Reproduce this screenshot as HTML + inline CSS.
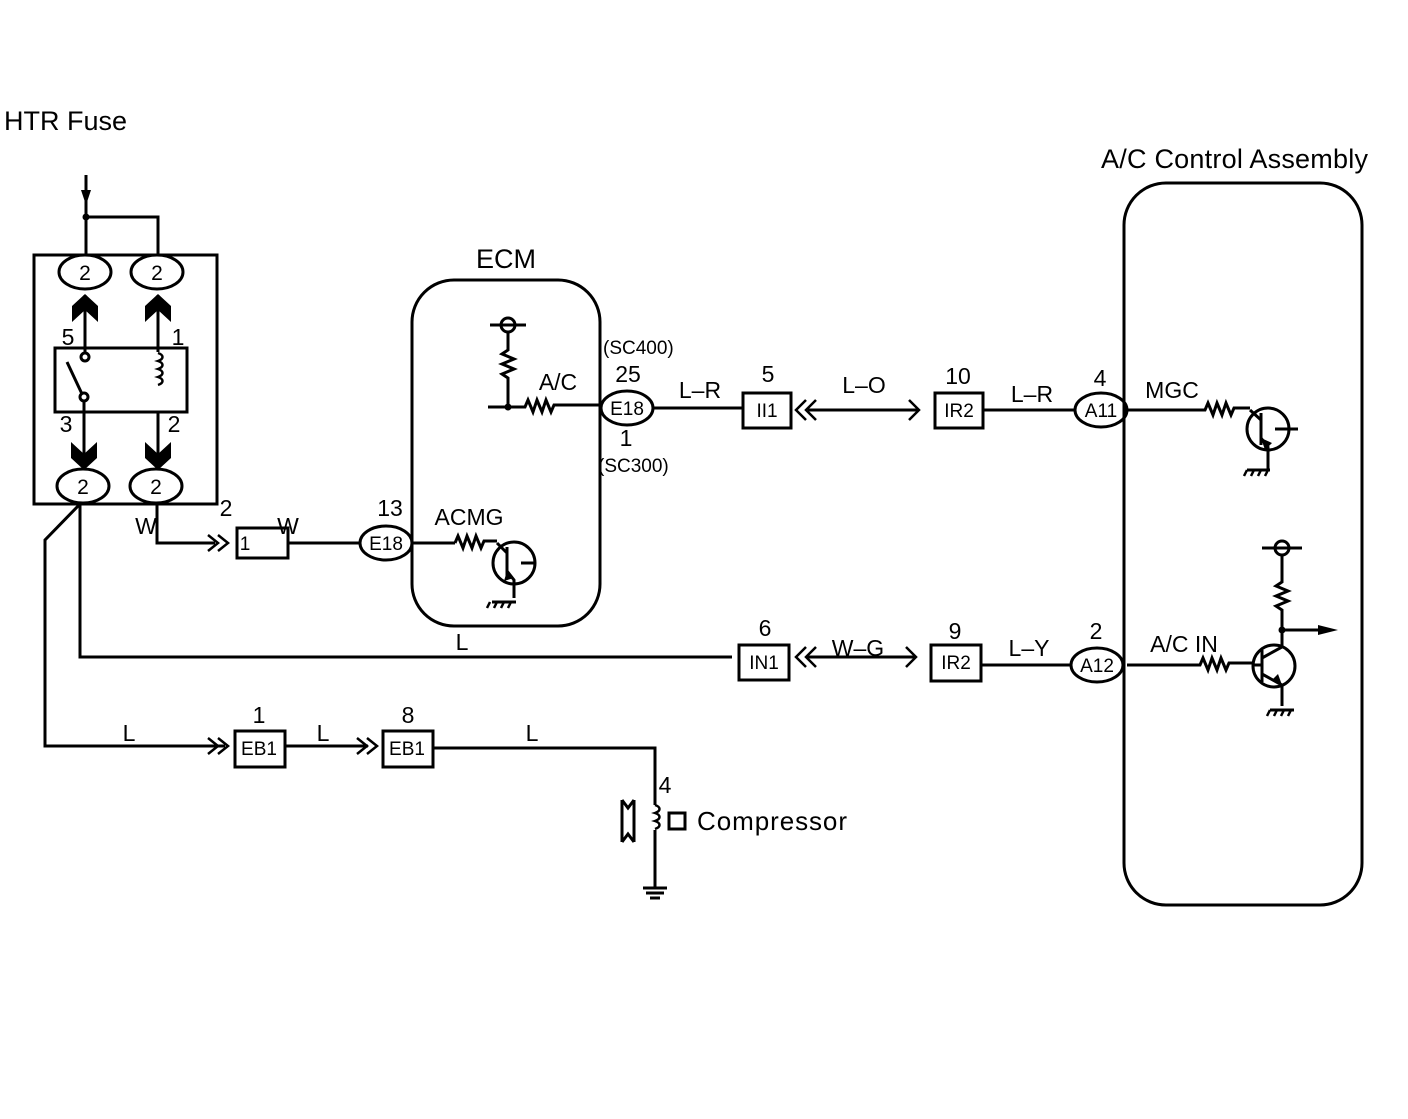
<!DOCTYPE html>
<html><head><style>
body{margin:0;background:#fff;}
svg text{font-family:"Liberation Sans",sans-serif;fill:#000;}
</style></head><body>
<svg width="1408" height="1114" viewBox="0 0 1408 1114" xmlns="http://www.w3.org/2000/svg">
<g fill="none" stroke="#000" stroke-width="3">
<rect x="34" y="255" width="183" height="249"/>
<path d="M86 175V255M86 217H158V255"/>
<ellipse cx="85" cy="272" rx="26" ry="17"/>
<ellipse cx="157" cy="272" rx="26" ry="17"/>
<ellipse cx="83" cy="486" rx="26" ry="17"/>
<ellipse cx="156" cy="486" rx="26" ry="17"/>
<rect x="55" y="348" width="132" height="64"/>
<path d="M85 295V352M158 295V352M84 401V460M158 412V460"/>
<circle cx="85" cy="357" r="4"/><circle cx="84" cy="397" r="4"/>
<path d="M67 362L82 394"/>
<path d="M158 353c6 2 6 6 0 8c6 2 6 6 0 8c6 2 6 6 0 8c6 2 6 6 0 8" stroke-width="2.5"/>
<path d="M80 504L45 540V746H225"/>
<path d="M80 504V657H732"/>
<path d="M157 504V543H215"/>
<rect x="237" y="528" width="51" height="30"/>
<path d="M288 543H361"/>
<ellipse cx="386" cy="543" rx="26" ry="17"/>
<path d="M412 543H455"/>
<rect x="412" y="280" width="188" height="346" rx="42"/>
<circle cx="508" cy="325" r="7"/>
<path d="M490 325H526M508 332V350l-6 4 12 5-12 5 12 5-12 5 6 4V407M488 407H525l3-7 5 12 4-12 5 12 4-12 5 12 3-7H601"/>
<path d="M455 543l3-7 5 12 4-12 5 12 4-12 5 12 3-7H497"/>
<circle cx="514" cy="563" r="21"/>
<path d="M507 547V579M497 543L507 553M507 571L514 580V598M521 563H535"/>
<path d="M492 602H516"/>
<ellipse cx="627" cy="408" rx="26" ry="17"/>
<path d="M653 408H743"/>
<rect x="743" y="393" width="48" height="35"/>
<path d="M808 410H918"/>
<rect x="935" y="393" width="48" height="35"/>
<path d="M983 410H1075"/>
<ellipse cx="1101" cy="410" rx="26" ry="17"/>
<path d="M1127 410H1205l3-7 5 12 4-12 5 12 4-12 5 12 3-7H1250"/>
<rect x="1124" y="183" width="238" height="722" rx="42"/>
<circle cx="1268" cy="429" r="21"/>
<path d="M1261 413V445M1250 410L1261 420M1261 438L1268 447V470M1275 429H1298"/>
<path d="M1247 470H1270"/>
<circle cx="1282" cy="548" r="7"/>
<path d="M1262 548H1302M1282 555V582l-6 4 12 5-12 5 12 5-12 5 6 4V640M1282 630H1325"/>
<path d="M1127 665H1200l3-7 5 12 4-12 5 12 4-12 5 12 3-7H1253"/>
<circle cx="1274" cy="666" r="21"/>
<path d="M1262 650V682M1253 665H1262M1262 658L1282 647V632M1262 674L1282 685V706"/>
<path d="M1270 710H1294"/>
<path d="M806 657H915"/>
<rect x="739" y="645" width="50" height="35"/>
<rect x="931" y="645" width="50" height="36"/>
<path d="M981 665H1071"/>
<ellipse cx="1097" cy="665" rx="26" ry="17"/>
<rect x="235" y="731" width="50" height="36"/>
<path d="M285 746H368"/>
<rect x="383" y="731" width="50" height="36"/>
<path d="M433 748H655V805M655 830V888"/>
<path d="M655 805c6 2 6 6 0 8c6 2 6 6 0 8c6 2 6 6 0 8" stroke-width="2.5"/>
<rect x="669" y="813" width="16" height="16"/>
<path d="M622 800V842M634 800V842M622 800L628 808L634 800M622 842L628 834L634 842"/>
<path d="M643 888H667M646 893H664M650 898H660"/>
</g>
<g fill="#000">
<path d="M81 190L86 205L91 190Z"/>
<circle cx="86" cy="217" r="3.5"/>
<circle cx="508" cy="407" r="3.5"/>
<circle cx="1282" cy="630" r="3.5"/>
<path d="M1318 625L1338 630L1318 635Z"/>
<path d="M72 322L72 306L85 294L98 306L98 322L85 310Z"/>
<path d="M145 322L145 306L158 294L171 306L171 322L158 310Z"/>
<path d="M71 442L84 454L97 442L97 458L84 470L71 458Z"/>
<path d="M145 442L158 454L171 442L171 458L158 470L145 458Z"/>
<path d="M507 571L504 581L514 578Z"/>
<path d="M1261 438L1265 450L1272 443Z"/>
<path d="M1282 685L1272 680L1278 674Z"/>
</g>
<g fill="none" stroke="#000" stroke-width="2.5">
<path d="M208 535L218 543L208 551M218 535L228 543L218 551"/>
<path d="M806 400L796 410L806 420M816 400L806 410L816 420"/>
<path d="M909 400L919 410L909 420"/>
<path d="M806 647L796 657L806 667M816 647L806 657L816 667"/>
<path d="M906 647L916 657L906 667"/>
<path d="M208 738L218 746L208 754M218 738L228 746L218 754"/>
<path d="M357 738L367 746L357 754M367 738L377 746L367 754"/>
<path d="M490 602l-3 6M497 602l-3 6M504 602l-3 6M511 602l-3 6"/>
<path d="M1247 470l-3 6M1254 470l-3 6M1261 470l-3 6M1268 470l-3 6"/>
<path d="M1270 710l-3 6M1277 710l-3 6M1284 710l-3 6M1291 710l-3 6"/>
</g>
<g font-size="27">
<text x="4" y="130">HTR Fuse</text>
<text x="1101" y="168" textLength="267">A/C Control Assembly</text>
<text x="476" y="268">ECM</text>
</g>
<g font-size="23" text-anchor="middle">
<text x="85" y="280" font-size="21">2</text><text x="157" y="280" font-size="21">2</text>
<text x="83" y="494" font-size="21">2</text><text x="156" y="494" font-size="21">2</text>
<text x="68" y="345">5</text><text x="178" y="345">1</text>
<text x="66" y="432">3</text><text x="174" y="432">2</text>
<text x="226" y="516">2</text>
<text x="146" y="534">W</text><text x="288" y="534">W</text>
<text x="390" y="516">13</text>
<text x="469" y="525">ACMG</text>
<text x="558" y="390">A/C</text>
<text x="628" y="382">25</text><text x="626" y="446">1</text>
<text x="700" y="398">L–R</text>
<text x="768" y="382">5</text>
<text x="864" y="393">L–O</text>
<text x="958" y="384">10</text>
<text x="1032" y="402">L–R</text>
<text x="1100" y="386">4</text>
<text x="1172" y="398">MGC</text>
<text x="1184" y="652">A/C IN</text>
<text x="462" y="650">L</text>
<text x="765" y="636">6</text>
<text x="858" y="656">W–G</text>
<text x="955" y="639">9</text>
<text x="1029" y="656">L–Y</text>
<text x="1096" y="639">2</text>
<text x="129" y="741">L</text><text x="259" y="723">1</text>
<text x="323" y="741">L</text><text x="408" y="723">8</text>
<text x="532" y="741">L</text>
<text x="665" y="793">4</text>
</g>
<g font-size="19" text-anchor="middle">
<text x="627" y="415">E18</text>
<text x="386" y="550">E18</text>
<text x="1101" y="417">A11</text>
<text x="1097" y="672">A12</text>
<text x="767" y="417">II1</text>
<text x="959" y="417">IR2</text>
<text x="764" y="669">IN1</text>
<text x="956" y="669">IR2</text>
<text x="259" y="755">EB1</text>
<text x="407" y="755">EB1</text>
<text x="245" y="550">1</text>
</g>
<g font-size="19">
<text x="603" y="354">(SC400)</text>
<text x="598" y="472">(SC300)</text>
</g>
<text x="697" y="830" font-size="26" textLength="150">Compressor</text>
</svg>
</body></html>
